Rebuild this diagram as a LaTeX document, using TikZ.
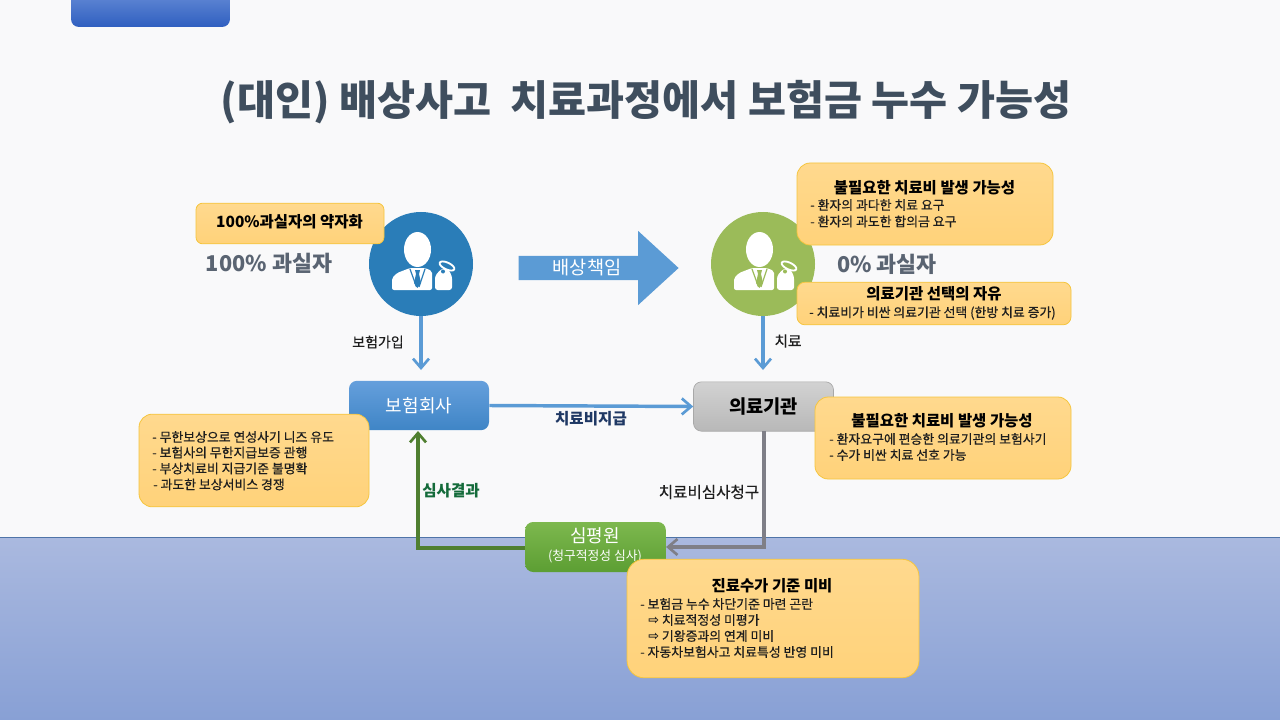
\documentclass[tikz,border=0pt]{standalone}
\usepackage{fontspec}
\setmainfont{Noto Sans CJK KR}
\newfontfamily\symfont{DejaVu Sans}
\newfontfamily\thickfont[FakeBold=0.5]{Noto Sans CJK KR}
\usetikzlibrary{arrows.meta,shapes.geometric,shapes.arrows}
\definecolor{pagebg}{HTML}{F9F9FA}
\definecolor{ink}{HTML}{1E1E1E}
\definecolor{titleink}{HTML}{3F4E5E}
\definecolor{greyink}{HTML}{5A6472}
\definecolor{flowblue}{HTML}{5B9BD5}
\definecolor{flowgreen}{HTML}{4F7F30}
\definecolor{flowgrey}{HTML}{7F7F87}
\definecolor{circblue}{HTML}{2A7DB8}
\definecolor{circgreen}{HTML}{9BBB59}
\definecolor{navyink}{HTML}{1F3864}
\definecolor{greenink}{HTML}{146B3A}
\definecolor{bandline}{HTML}{4F74A8}
\definecolor{noteA}{HTML}{FFD98E}
\definecolor{noteB}{HTML}{FFD27A}
\definecolor{noteE}{HTML}{F5C53D}
\definecolor{boxbA}{HTML}{659FDC}
\definecolor{boxbB}{HTML}{3F85C6}
\definecolor{boxgA}{HTML}{D2D2D2}
\definecolor{boxgB}{HTML}{B8B8B8}
\definecolor{boxgE}{HTML}{A8A8A8}
\definecolor{boxnA}{HTML}{7DB84E}
\definecolor{boxnB}{HTML}{5C9E33}
\definecolor{tabA}{HTML}{6A8FD8}
\definecolor{tabB}{HTML}{2F5FC0}
\definecolor{bandA}{HTML}{AAB9DF}
\definecolor{bandB}{HTML}{88A0D5}
\tikzset{
  x=0.75pt,y=-0.75pt,
  notebox/.style={rounded corners=#1,top color=noteA,bottom color=noteB,inner sep=0pt,draw=noteE,line width=0.6pt},
  notebox/.default=10pt,
  flowbox/.style={rounded corners=6pt,inner sep=0pt},
  bluebox/.style={flowbox,top color=boxbA,bottom color=boxbB,text=white},
  greybox/.style={flowbox,top color=boxgA,bottom color=boxgB,draw=boxgE,line width=0.5pt},
  greenbox/.style={flowbox,top color=boxnA,bottom color=boxnB,text=white},
  bodytext/.style={anchor=west,inner sep=0pt,font=\fontsize{9.65pt}{11pt}\thickfont,text=ink},
  headtext/.style={anchor=center,inner sep=0pt,font=\fontsize{11.6pt}{13pt}\selectfont\bfseries,text=black},
  lbl/.style={anchor=center,inner sep=0pt,font=\fontsize{11.7pt}{13pt}\thickfont,text=ink},
  flow/.style={line width=2.6pt,-{Straight Barb[length=7pt,width=12pt,line width=2pt]}},
  pct/.style={anchor=center,inner sep=0pt,font=\fontsize{16.3pt}{18pt}\selectfont\bfseries,text=greyink},
}
% person icon: #1 centre x, #2 centre y, #3 disc colour
\newcommand{\personicon}[3]{%
  \begin{scope}[shift={(#1,#2)}]
    \fill[white] (-3.5,-14.5) ellipse[x radius=13.5,y radius=17.5];
    \fill[white,rounded corners=1.5pt] (-29,26) -- (-29,14) -- (-24,9) -- (-11,4) -- (4,4) -- (11,7) -- (11,26) -- cycle;
    \draw[#3,line width=0.9pt] (-11,5) -- (-4.5,23) (4,5) -- (-2,23);
    \fill[#3] (-6,6) -- (-1,6) -- (-2,10) -- (0,19) -- (-3.5,24) -- (-7,19) -- (-5,10) -- cycle;
    \fill[white,rounded corners=2pt] (14,26) -- (14,12) -- (20,5) -- (27,5) -- (31,12) -- (31,26) -- cycle;
    \draw[white,line width=1.4pt,rotate around={-25:(26,2)}] (26,2) ellipse[x radius=8,y radius=3.4];
    \fill[#3] (22,7.5) circle[radius=2];
  \end{scope}}
\begin{document}
\begin{tikzpicture}
\useasboundingbox (0,0) rectangle (1280,720);
\fill[pagebg] (0,0) rectangle (1280,720);
\shade[top color=bandA,bottom color=bandB] (0,537) rectangle (1280,720);
\draw[bandline,line width=0.7pt] (0,537) -- (1280,537);
\shade[top color=tabA,bottom color=tabB,rounded corners=6pt] (71,-12) rectangle (230,27);

\node[anchor=center,inner sep=0pt,font=\fontsize{31pt}{34pt}\selectfont\bfseries,text=titleink] (title) at (646,102) {(대인) 배상사고\ \ 치료과정에서 보험금 누수 가능성};

% circles
\node[circle,fill=circblue,minimum size=78pt,inner sep=0pt] (faultA) at (421,264) {};
\personicon{421}{264}{circblue}
\node[circle,fill=circgreen,minimum size=78pt,inner sep=0pt] (faultB) at (763,264) {};
\personicon{763}{264}{circgreen}

% main boxes
\node[bluebox,minimum width=105pt,minimum height=37pt,font=\fontsize{13.5pt}{15pt}\selectfont] (insurer) at (419,405.5) {보험회사};
\node[greybox,minimum width=105pt,minimum height=37pt,font=\fontsize{14pt}{16pt}\selectfont\bfseries] (hospital) at (763.5,406.5) {의료기관};
\node[greenbox,minimum width=105.5pt,minimum height=37.5pt] (hira) at (595.5,547) {};
\node[anchor=center,inner sep=0pt,text=white,font=\fontsize{13.5pt}{15pt}\selectfont] (hiraA) at (595,536) {심평원};
\node[anchor=center,inner sep=0pt,text=white,font=\fontsize{9.6pt}{11pt}\selectfont] (hiraB) at (595,556) {(청구적정성 심사)};

% liability arrow
\node[single arrow,single arrow head extend=13.5pt,single arrow tip angle=85,minimum height=120pt,minimum width=55.5pt,inner sep=0pt,fill=flowblue,text=white,font=\fontsize{14pt}{16pt}\selectfont,text width=80pt,align=center] (liab) at (592,268) {\hspace*{-7.5pt}배상책임};

% connectors
\coordinate (insTop) at (421,370);
\coordinate (hosTop) at (763,370);
\coordinate (hiraL) at (418,548);
\coordinate (hiraR) at (764,547);
\coordinate (insB) at (418,431);
\coordinate (hosB) at (764,431);
\draw[flow,flowblue] (faultA) -- (insTop);
\draw[flow,flowblue] (insurer.east) -- (hospital.west);
\draw[flow,flowblue] (faultB) -- (hosTop);
\draw[flow,flowgreen] (hira.west|-hiraL) -- (hiraL) -- (insB);
\draw[flow,flowgrey] (hosB) -- (hiraR) -- (hira.east|-hiraR);

% edge labels
\node[lbl,font=\fontsize{10.5pt}{12pt}\thickfont] (lblA) at (378,342) {보험가입};
\node[lbl,font=\fontsize{11pt}{13pt}\thickfont] (lblB) at (788,341) {치료};
\node[lbl,font=\fontsize{11.7pt}{13pt}\selectfont\bfseries,text=navyink] (lblC) at (591,419) {치료비지급};
\node[lbl,font=\fontsize{11.7pt}{13pt}\selectfont\bfseries,text=greenink] (lblD) at (451,491) {심사결과};
\node[lbl] (lblE) at (709,492) {치료비심사청구};
\node[pct] (pctA) at (269,263) {100\% 과실자};
\node[pct] (pctB) at (887,264) {0\% 과실자};

% notes
\node[notebox=5pt,minimum width=141pt,minimum height=30.5pt] (noteA) at (290,223.5) {};
\node[headtext] (noteAh) at (289.5,222) {100\%과실자의 약자화};

\node[notebox=10pt,minimum width=172.5pt,minimum height=69.5pt] (noteB) at (254,460.5) {};
\node[bodytext] (noteB1) at (152,437) {- 무한보상으로 연성사기 니즈 유도};
\node[bodytext] (noteB2) at (152,452.5) {- 보험사의 무한지급보증 관행};
\node[bodytext] (noteB3) at (152,468.5) {- 부상치료비 지급기준 불명확};
\node[bodytext] (noteB4) at (153,484.5) {- 과도한 보상서비스 경쟁};

\node[notebox=10pt,minimum width=192pt,minimum height=61.5pt] (noteC) at (925,204) {};
\node[headtext] (noteCh) at (924.5,188) {불필요한 치료비 발생 가능성};
\node[bodytext] (noteC1) at (810,205) {- 환자의 과다한 치료 요구};
\node[bodytext] (noteC2) at (810,221.5) {- 환자의 과도한 합의금 요구};

\node[notebox=6pt,minimum width=205.5pt,minimum height=32pt] (noteD) at (934,303.5) {};
\node[headtext] (noteDh) at (934,294) {의료기관 선택의 자유};
\node[bodytext] (noteD1) at (809,313) {- 치료비가 비싼 의료기관 선택 (한방 치료 증가)};

\node[notebox=10pt,minimum width=192pt,minimum height=61.5pt] (noteE) at (943,438) {};
\node[headtext] (noteEh) at (942,421) {불필요한 치료비 발생 가능성};
\node[bodytext] (noteE1) at (829,439) {- 환자요구에 편승한 의료기관의 보험사기};
\node[bodytext] (noteE2) at (829,455) {- 수가 비싼 치료 선호 가능};

\node[notebox=13pt,minimum width=219pt,minimum height=89pt] (noteF) at (773,618.5) {};
\node[headtext] (noteFh) at (772,586) {진료수가 기준 미비};
\node[bodytext] (noteF1) at (640,604) {- 보험금 누수 차단기준 마련 곤란};
\node[bodytext] (noteF2) at (648,620) {{\symfont\bfseries ⇨} 치료적정성 미평가};
\node[bodytext] (noteF3) at (648,636) {{\symfont\bfseries ⇨} 기왕증과의 연계 미비};
\node[bodytext] (noteF4) at (640,652) {- 자동차보험사고 치료특성 반영 미비};
\end{tikzpicture}
\end{document}
